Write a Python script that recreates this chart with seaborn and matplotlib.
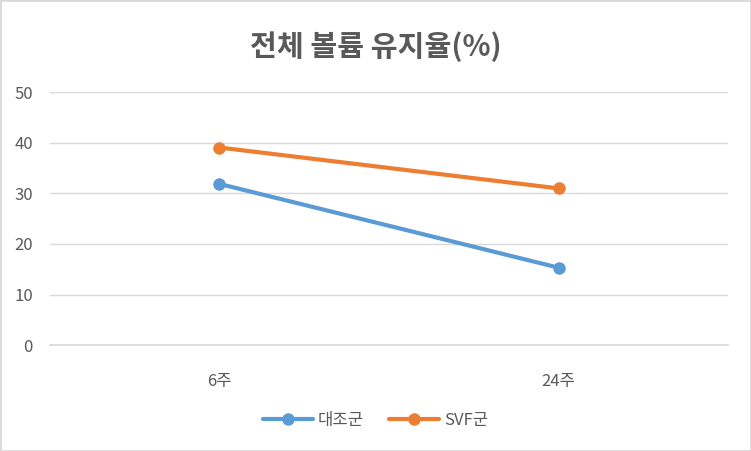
import pandas as pd
import matplotlib
matplotlib.use("Agg")
import matplotlib.pyplot as plt
import seaborn as sns

weeks = ["6주", "24주"]
control = [31.9, 15.3]
svf = [39.1, 31.0]
series_names = ["대조군", "SVF군"]
yticks = [0, 10, 20, 30, 40, 50]

sns.set_theme(style="white")
plt.rcParams["font.family"] = ["Noto Sans CJK KR", "DejaVu Sans"]

df = pd.DataFrame({
    "week": weeks * 2,
    "value": control + svf,
    "group": [series_names[0]] * len(weeks) + [series_names[1]] * len(weeks),
})

fig = plt.figure(figsize=(7.51, 4.51), dpi=100)
ax = fig.add_axes([0.066, 0.235, 0.904, 0.56])

sns.lineplot(data=df, x="week", y="value", hue="group", palette=["#5b9bd5", "#ed7d31"],
             marker="o", markersize=9, markeredgewidth=0, linewidth=3, sort=False, ax=ax)

ax.set_xlim(-0.5, 1.5)
ax.set_ylim(0, 50)
ax.set_yticks(yticks)
ax.grid(axis="y", color="#d9d9d9", linewidth=1)
ax.set_axisbelow(True)
for side in ["top", "right", "left"]:
    ax.spines[side].set_visible(False)
ax.spines["bottom"].set_color("#d9d9d9")
ax.tick_params(axis="both", colors="#595959", labelsize=12, length=0, pad=12)
ax.tick_params(axis="x", pad=20)
ax.set_xlabel("")
ax.set_ylabel("")

fig.text(0.5, 0.897, "전체 볼륨 유지율(%)", ha="center", va="center",
         fontsize=21, fontweight="bold", color="#595959")

handles, labels = ax.get_legend_handles_labels()
ax.legend(handles, labels, loc="center", bbox_to_anchor=(0.5, 0.068), bbox_transform=fig.transFigure,
          ncol=2, frameon=False, fontsize=12, labelcolor="#595959", handlelength=3,
          columnspacing=1.5, handletextpad=0.3)

# light border around the chart like the original
fig.patches.append(plt.Rectangle((0, 0), 1, 1, transform=fig.transFigure, fill=False,
                                 edgecolor="#d9d9d9", linewidth=2))

fig.savefig("out.png", dpi=100)
